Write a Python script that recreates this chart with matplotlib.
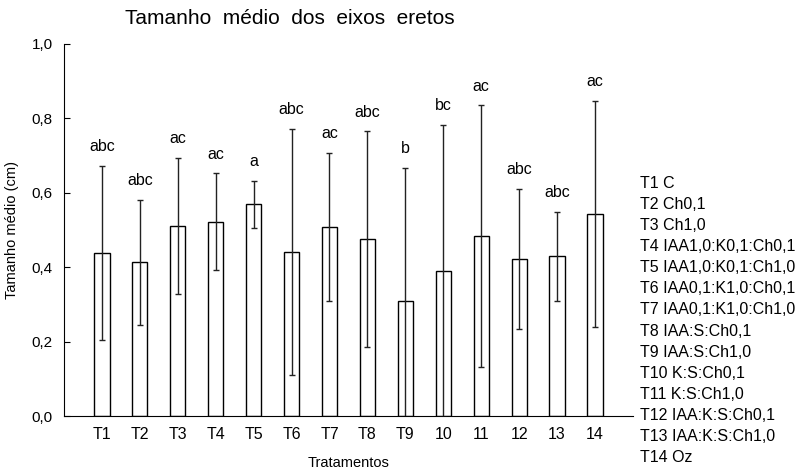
import matplotlib
matplotlib.use('Agg')
import matplotlib.pyplot as plt
import numpy as np

plt.rcParams['font.family'] = ['Liberation Sans', 'DejaVu Sans']

labels = ['T1', 'T2', 'T3', 'T4', 'T5', 'T6', 'T7', 'T8', 'T9', '10', '11', '12', '13', '14']
means = [0.438, 0.413, 0.511, 0.522, 0.569, 0.440, 0.508, 0.475, 0.309, 0.390, 0.484, 0.423, 0.429, 0.543]
sd = [0.235, 0.168, 0.182, 0.130, 0.064, 0.331, 0.200, 0.290, 0.359, 0.392, 0.351, 0.188, 0.120, 0.303]
letters = ['abc', 'abc', 'ac', 'ac', 'a', 'abc', 'ac', 'abc', 'b', 'bc', 'ac', 'abc', 'abc', 'ac']
legend_lines = ['T1 C', 'T2 Ch0,1', 'T3 Ch1,0', 'T4 IAA1,0:K0,1:Ch0,1', 'T5 IAA1,0:K0,1:Ch1,0',
                'T6 IAA0,1:K1,0:Ch0,1', 'T7 IAA0,1:K1,0:Ch1,0', 'T8 IAA:S:Ch0,1', 'T9 IAA:S:Ch1,0',
                'T10 K:S:Ch0,1', 'T11 K:S:Ch1,0', 'T12 IAA:K:S:Ch0,1', 'T13 IAA:K:S:Ch1,0', 'T14 Oz']

fig = plt.figure(figsize=(7.99, 4.72), dpi=100, facecolor='w')
ax = fig.add_axes([0.0801, 0.1186, 0.712, 0.7882])

x = np.arange(1, len(means) + 1)
ax.bar(x, means, width=0.4, color='white', edgecolor='black', linewidth=1.0, zorder=2)
ax.errorbar(x, means, yerr=sd, fmt='none', ecolor='#222222', elinewidth=1.0,
            capsize=2.5, capthick=1.0, zorder=3)

for xi, m, s, t in zip(x, means, sd, letters):
    ax.annotate(t, (xi, m + s), xytext=(0, 8.5), textcoords='offset points',
                ha='center', va='bottom', fontsize=11.5)

ax.set_xlim(0, 15)
ax.set_ylim(0, 1.0)
ax.set_xticks(x)
ax.set_xticklabels(labels, fontsize=11.5)
ax.set_yticks([0, 0.2, 0.4, 0.6, 0.8, 1.0])
ax.set_yticklabels(['0,0', '0,2', '0,4', '0,6', '0,8', '1,0'], fontsize=11)
ax.tick_params(axis='y', direction='in', length=4, pad=8)
ax.tick_params(axis='x', direction='in', length=3, pad=8)
ax.spines['top'].set_visible(False)
ax.spines['right'].set_visible(False)
ax.set_xlabel('Tratamentos', fontsize=10.5, labelpad=10)
ax.set_ylabel('Tamanho médio (cm)', fontsize=10.5, labelpad=9)

fig.text(290 / 799, 1 - 18 / 472, 'Tamanho  médio  dos  eixos  eretos', ha='center', va='center', fontsize=15)

for i, line in enumerate(legend_lines):
    y = 183 + i * 21.15
    fig.text(640 / 799, 1 - y / 472, line, ha='left', va='center', fontsize=11.5)

fig.savefig('out.png', dpi=100)
